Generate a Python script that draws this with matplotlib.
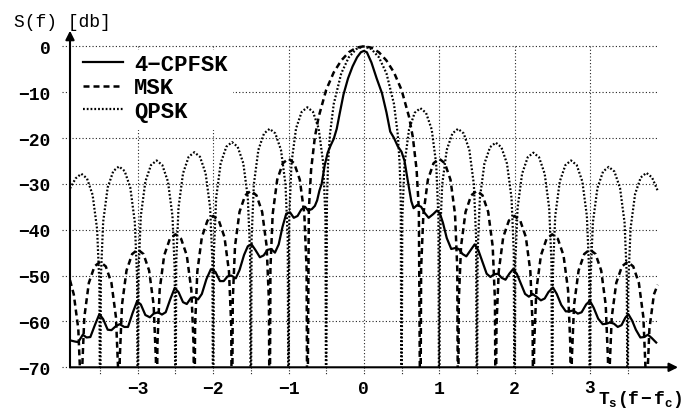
import matplotlib
matplotlib.use("Agg")
import matplotlib.pyplot as plt
from matplotlib.lines import Line2D
from matplotlib.patches import Rectangle

plt.rcParams['font.family'] = ['Liberation Mono', 'DejaVu Sans']
plt.rcParams['mathtext.fontset'] = 'custom'
plt.rcParams['mathtext.rm'] = 'Liberation Mono:bold'
plt.rcParams['mathtext.it'] = 'Liberation Mono:bold'

# values; x = Ts(f-fc), y = S(f) in dB (-90 = null, below the axis)
qpsk_f = [
    -3.90, -3.825, -3.75, -3.675, -3.60, -3.54, -3.51, -3.50,
    -3.49, -3.46, -3.40, -3.325, -3.25, -3.175, -3.10, -3.04, -3.01, -3.00,
    -2.99, -2.96, -2.90, -2.825, -2.75, -2.675, -2.60, -2.54, -2.51, -2.50,
    -2.49, -2.46, -2.40, -2.325, -2.25, -2.175, -2.10, -2.04, -2.01, -2.00,
    -1.99, -1.96, -1.90, -1.825, -1.75, -1.675, -1.60, -1.54, -1.51, -1.50,
    -1.49, -1.46, -1.40, -1.325, -1.25, -1.175, -1.10, -1.04, -1.01, -1.00,
    -0.99, -0.96, -0.90, -0.825, -0.75, -0.675, -0.60, -0.54, -0.51, -0.50,
    -0.49, -0.475, -0.45, -0.40, -0.30, -0.20, -0.10, 0.00, 0.10, 0.20, 0.30, 0.40, 0.45, 0.475, 0.49, 0.50,
    0.51, 0.54, 0.60, 0.675, 0.75, 0.825, 0.90, 0.96, 0.99, 1.00,
    1.01, 1.04, 1.10, 1.175, 1.25, 1.325, 1.40, 1.46, 1.49, 1.50,
    1.51, 1.54, 1.60, 1.675, 1.75, 1.825, 1.90, 1.96, 1.99, 2.00,
    2.01, 2.04, 2.10, 2.175, 2.25, 2.325, 2.40, 2.46, 2.49, 2.50,
    2.51, 2.54, 2.60, 2.675, 2.75, 2.825, 2.90, 2.96, 2.99, 3.00,
    3.01, 3.04, 3.10, 3.175, 3.25, 3.325, 3.40, 3.46, 3.49, 3.50,
    3.51, 3.54, 3.60, 3.675, 3.75, 3.825, 3.90,
]
qpsk_db = [
    -31.0, -28.8, -27.8, -28.8, -32.4, -39.9, -51.8, -90,
    -50.2, -38.3, -30.8, -27.2, -26.2, -27.2, -30.8, -38.3, -50.2, -90,
    -48.9, -37.0, -29.5, -25.9, -24.9, -25.9, -29.5, -37.0, -48.9, -90,
    -47.1, -35.2, -27.7, -24.1, -23.1, -24.1, -27.7, -35.2, -47.1, -90,
    -44.9, -33.0, -25.5, -21.9, -20.9, -21.9, -25.5, -33.0, -44.9, -90,
    -42.0, -30.1, -22.6, -19.0, -18.0, -19.0, -22.6, -30.1, -42.0, -90,
    -37.3, -25.4, -17.9, -14.3, -13.3, -14.3, -17.9, -25.4, -37.3, -90,
    -33.8, -25.6, -19.2, -12.6, -5.9, -2.4, -0.6, 0.0, -0.6, -2.4, -5.9, -12.6, -19.2, -25.6, -33.8, -90,
    -37.5, -25.6, -18.1, -14.5, -13.5, -14.5, -18.1, -25.6, -37.5, -90,
    -42.0, -30.1, -22.6, -19.0, -18.0, -19.0, -22.6, -30.1, -42.0, -90,
    -45.0, -33.1, -25.6, -22.0, -21.0, -22.0, -25.6, -33.1, -45.0, -90,
    -47.2, -35.3, -27.8, -24.2, -23.2, -24.2, -27.8, -35.3, -47.2, -90,
    -48.9, -37.0, -29.5, -25.9, -24.9, -25.9, -29.5, -37.0, -48.9, -90,
    -50.3, -38.4, -30.9, -27.3, -26.3, -27.3, -30.9, -38.4, -50.3, -90,
    -51.6, -39.7, -32.2, -28.6, -27.6, -28.6, -31.5,
]

msk_f = [
    -3.90, -3.85, -3.79, -3.76, -3.75,
    -3.74, -3.71, -3.65, -3.575, -3.50, -3.425, -3.35, -3.29, -3.26, -3.25,
    -3.24, -3.21, -3.15, -3.075, -3.00, -2.925, -2.85, -2.79, -2.76, -2.75,
    -2.74, -2.71, -2.65, -2.575, -2.50, -2.425, -2.35, -2.29, -2.26, -2.25,
    -2.24, -2.21, -2.15, -2.075, -2.00, -1.925, -1.85, -1.79, -1.76, -1.75,
    -1.74, -1.71, -1.65, -1.575, -1.50, -1.425, -1.35, -1.29, -1.26, -1.25,
    -1.24, -1.21, -1.15, -1.075, -1.00, -0.925, -0.85, -0.79, -0.76,
    -0.75, -0.73, -0.70, -0.65, -0.60, -0.50, -0.40, -0.30, -0.20, -0.10, 0.00,
    0.10, 0.20, 0.30, 0.40, 0.50, 0.60, 0.65, 0.70, 0.73, 0.75,
    0.76, 0.79, 0.85, 0.925, 1.00, 1.075, 1.15, 1.21, 1.24, 1.25,
    1.26, 1.29, 1.35, 1.425, 1.50, 1.575, 1.65, 1.71, 1.74, 1.75,
    1.76, 1.79, 1.85, 1.925, 2.00, 2.075, 2.15, 2.21, 2.24, 2.25,
    2.26, 2.29, 2.35, 2.425, 2.50, 2.575, 2.65, 2.71, 2.74, 2.75,
    2.76, 2.79, 2.85, 2.925, 3.00, 3.075, 3.15, 3.21, 3.24, 3.25,
    3.26, 3.29, 3.35, 3.425, 3.50, 3.575, 3.65, 3.71, 3.74, 3.75,
    3.76, 3.79, 3.85, 3.90,
]
msk_db = [
    -51.0, -54.1, -61.6, -73.5, -90,
    -71.0, -59.1, -51.6, -48.0, -47.0, -48.0, -51.6, -59.1, -71.0, -90,
    -68.3, -56.4, -48.9, -45.3, -44.3, -45.3, -48.9, -56.4, -68.3, -90,
    -65.0, -53.1, -45.6, -42.0, -41.0, -42.0, -45.6, -53.1, -65.0, -90,
    -61.0, -49.1, -41.6, -38.0, -37.0, -38.0, -41.6, -49.1, -61.0, -90,
    -55.5, -43.6, -36.1, -32.5, -31.5, -32.5, -36.1, -43.6, -55.5, -90,
    -48.5, -36.6, -29.1, -25.5, -24.5, -25.5, -29.1, -36.6, -48.5,
    -90, -35.6, -26.9, -19.8, -15.4, -9.5, -5.7, -3.1, -1.3, -0.3, 0.0,
    -0.3, -1.3, -3.1, -5.7, -9.5, -15.4, -19.8, -26.9, -35.6, -90,
    -48.5, -36.6, -29.1, -25.5, -24.5, -25.5, -29.1, -36.6, -48.5, -90,
    -55.5, -43.6, -36.1, -32.5, -31.5, -32.5, -36.1, -43.6, -55.5, -90,
    -61.0, -49.1, -41.6, -38.0, -37.0, -38.0, -41.6, -49.1, -61.0, -90,
    -65.0, -53.1, -45.6, -42.0, -41.0, -42.0, -45.6, -53.1, -65.0, -90,
    -68.3, -56.4, -48.9, -45.3, -44.3, -45.3, -48.9, -56.4, -68.3, -90,
    -71.0, -59.1, -51.6, -48.0, -47.0, -48.0, -51.6, -59.1, -71.0, -90,
    -73.5, -61.6, -54.1, -52.0,
]

cpfsk_f = [
    -3.88, -3.83, -3.79, -3.73, -3.68, -3.63, -3.57, -3.51, -3.46, -3.40,
    -3.35, -3.29, -3.24, -3.18, -3.13, -3.07, -3.01, -2.96, -2.90, -2.84,
    -2.79, -2.73, -2.68, -2.63, -2.57, -2.51, -2.46, -2.40, -2.35, -2.30,
    -2.25, -2.20, -2.15, -2.09, -2.03, -1.97, -1.91, -1.86, -1.81, -1.76,
    -1.70, -1.65, -1.59, -1.54, -1.49, -1.44, -1.38, -1.33, -1.28, -1.23,
    -1.18, -1.13, -1.08, -1.03, -0.98, -0.93, -0.88, -0.83, -0.78, -0.74,
    -0.69, -0.65, -0.62, -0.59, -0.56, -0.52, -0.48, -0.44, -0.40, -0.36,
    -0.32, -0.27, -0.21, -0.15, -0.09, -0.04, 0.00,
    0.04, 0.10, 0.17, 0.24, 0.30, 0.35, 0.40, 0.45, 0.50, 0.54,
    0.59, 0.63, 0.66, 0.71, 0.76, 0.81, 0.86, 0.92, 0.97, 1.01,
    1.05, 1.10, 1.16, 1.21, 1.26, 1.31, 1.36, 1.41, 1.47, 1.52,
    1.58, 1.63, 1.68, 1.73, 1.78, 1.83, 1.88, 1.93, 1.98, 2.03,
    2.09, 2.14, 2.19, 2.24, 2.29, 2.35, 2.40, 2.45, 2.51, 2.56,
    2.62, 2.68, 2.73, 2.78, 2.84, 2.89, 2.95, 3.00, 3.05, 3.11,
    3.17, 3.22, 3.27, 3.32, 3.37, 3.42, 3.47, 3.51, 3.56, 3.61,
    3.67, 3.72, 3.77, 3.82, 3.88,
]
cpfsk_db = [
    -64.2, -64.4, -64.5, -62.9, -63.5, -63.4, -60.8, -58.4, -59.5, -61.8,
    -61.9, -61.0, -60.6, -61.2, -61.2, -58.2, -55.6, -56.3, -58.6, -59.1,
    -58.3, -58.0, -58.5, -58.0, -55.2, -52.7, -53.6, -55.8, -56.2, -55.0,
    -54.7, -55.2, -54.0, -50.8, -48.6, -49.2, -51.2, -51.2, -50.2, -50.0,
    -50.6, -48.8, -45.5, -43.6, -43.2, -44.4, -46.0, -45.6, -44.4, -44.2,
    -45.0, -43.2, -39.4, -36.5, -36.2, -37.4, -37.0, -35.6, -35.0, -35.8,
    -35.5, -34.8, -33.6, -31.5, -30.0, -26.0, -23.2, -21.6, -20.2, -18.0,
    -14.6, -10.5, -7.0, -4.4, -2.4, -1.3, -1.0,
    -1.3, -3.5, -7.0, -10.2, -14.4, -18.6, -20.0, -21.8, -23.0, -25.0,
    -30.0, -33.8, -35.3, -34.6, -35.0, -36.4, -37.4, -36.6, -35.8, -36.5,
    -38.5, -41.8, -44.2, -44.0, -44.2, -45.3, -45.8, -44.6, -43.2, -44.5,
    -47.3, -49.6, -50.3, -49.7, -49.6, -50.5, -50.9, -49.6, -48.6, -49.6,
    -52.0, -54.0, -54.6, -54.0, -54.6, -55.4, -55.0, -53.6, -52.6, -54.0,
    -56.4, -57.8, -57.8, -57.6, -58.3, -58.0, -56.3, -55.5, -57.0, -59.4,
    -60.6, -60.5, -60.2, -60.5, -61.2, -60.8, -59.2, -58.4, -59.8, -61.8,
    -63.5, -63.4, -62.9, -63.6, -64.6,
]

x_ticks = [-3, -2, -1, 0, 1, 2, 3]
y_ticks = [0, -10, -20, -30, -40, -50, -60, -70]
half_ticks = [-3.5, -3, -2.5, -2, -1.5, -1, -0.5, 0, 0.5, 1, 1.5, 2, 2.5, 3, 3.5]

fig = plt.figure(figsize=(6.9, 4.14), dpi=100)
ax = fig.add_axes([0.10145, 0.1104, 0.8845, 0.813])
ax.set_xlim(-3.9, 4.2)
ax.set_ylim(-70, 3.4)
for s in ax.spines.values():
    s.set_visible(False)

grid_kw = dict(color='#222222', lw=0.8, dashes=(1, 2), zorder=1)
for yv in y_ticks[:-1]:
    ax.plot([-4.0, 3.9], [yv, yv], clip_on=False, **grid_kw)
ax.plot([-4.0, -3.9], [-70, -70], clip_on=False, **grid_kw)
for xv in x_ticks:
    ax.plot([xv, xv], [-70, 0], **grid_kw)
for xv in half_ticks:
    ax.plot([xv, xv], [-70, -71.4], clip_on=False, color='#222222', lw=0.8, dashes=(1, 1.5))

# white patch behind the legend
ax.add_patch(Rectangle((-3.88, -18.3), 2.14, 17.6, facecolor='white', edgecolor='none', zorder=2))

ax.plot(qpsk_f, qpsk_db, color='black', lw=1.6, dashes=(0.8, 0.9), zorder=3)
ax.plot(msk_f, msk_db, color='black', lw=1.8, dashes=(2.4, 1.6), zorder=3)
ax.plot(cpfsk_f, cpfsk_db, color='black', lw=1.6, zorder=4)

# axes with arrows
ax.annotate('', xy=(4.17, -70), xytext=(-3.9, -70), annotation_clip=False,
            arrowprops=dict(arrowstyle='-|>', lw=1.5, color='black', mutation_scale=13, shrinkA=0, shrinkB=0))
ax.annotate('', xy=(-3.9, 3.4), xytext=(-3.9, -70), annotation_clip=False,
            arrowprops=dict(arrowstyle='-|>', lw=1.5, color='black', mutation_scale=13, shrinkA=0, shrinkB=0))

ax.set_yticks(y_ticks)
ax.set_yticklabels([str(v).replace('-', '\u2212') for v in y_ticks], fontweight='bold', fontsize=13)
ax.set_xticks(x_ticks[:-1])
ax.set_xticklabels([str(v).replace('-', '\u2212') for v in x_ticks[:-1]], fontweight='bold', fontsize=13)
ax.tick_params(axis='y', length=0, pad=14)
ax.tick_params(axis='x', length=0, pad=9)

handles = [Line2D([], [], color='black', lw=1.6),
           Line2D([], [], color='black', lw=1.8, dashes=(2.4, 1.6)),
           Line2D([], [], color='black', lw=1.6, dashes=(0.8, 0.9))]
ax.legend(handles, ['4\u2212CPFSK', 'MSK', 'QPSK'], loc='upper left', bbox_to_anchor=(0.021, 0.93),
          frameon=False, borderpad=0, borderaxespad=0, handlelength=1.8, handletextpad=0.5,
          labelspacing=0.1, prop=dict(family='Liberation Mono', weight='bold', size=16))

fig.text(0.02, 0.935, 'S(f) [db]', fontsize=13)

# last x tick sits a bit higher, glued to the axis label
ax.text(x_ticks[-1], -72.6, '3', fontsize=13, fontweight='bold', ha='center', va='top', clip_on=False)
ax.text(3.11, -74.6, r'$\mathrm{T_s(f-f_c)}$', fontsize=13, ha='left', va='top', clip_on=False)

fig.savefig('out.png', dpi=100)
